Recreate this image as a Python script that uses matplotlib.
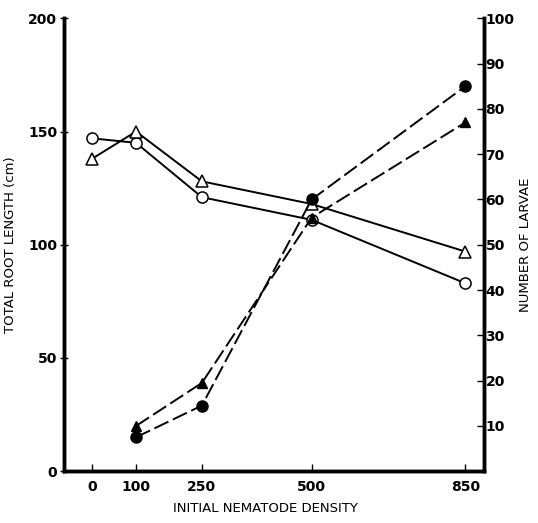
import matplotlib
matplotlib.use("Agg")
import matplotlib.pyplot as plt

density = [0, 100, 250, 500, 850]
root_circle = [147, 145, 121, 111, 83]
root_triangle = [138, 150, 128, 118, 97]
larvae_density = [100, 250, 500, 850]
larvae_circle = [7.5, 14.5, 60, 85]
larvae_triangle = [10, 19.5, 56, 77]

left_ticks = [0, 50, 100, 150, 200]
right_ticks = [10, 20, 30, 40, 50, 60, 70, 80, 90, 100]

plt.rcParams["font.family"] = "DejaVu Sans"

fig = plt.figure(figsize=(5.38, 5.23), dpi=100)
ax = fig.add_axes([0.119, 0.099, 0.781, 0.866])
ax2 = ax.twinx()

# open symbols: root length (left axis), solid lines
ax.plot(density, root_circle, "-", color="black", lw=1.4,
        marker="o", ms=8, mfc="white", mec="black", mew=1.1, zorder=3)
ax.plot(density, root_triangle, "-", color="black", lw=1.4,
        marker="^", ms=8, mfc="white", mec="black", mew=1.1, zorder=3)

# filled symbols: larvae (right axis), dashed lines
ax2.plot(larvae_density, larvae_circle, color="black", lw=1.4,
         dashes=(8, 2.5), marker="o", ms=8, mfc="black", mec="black", zorder=3)
ax2.plot(larvae_density, larvae_triangle, color="black", lw=1.4,
         dashes=(8, 2.5), marker="^", ms=7, mfc="black", mec="black", zorder=3)

ax.set_xlim(-64, 893)
ax.set_ylim(0, 200)
ax2.set_ylim(0, 100)

for a in (ax, ax2):
    a.spines["top"].set_visible(False)
    for s in ("left", "right", "bottom"):
        a.spines[s].set_linewidth(2.5)

ax.set_xticks(density)
ax.set_xticklabels([str(d) for d in density], fontsize=10, fontweight="bold")
ax.set_yticks(left_ticks)
ax.set_yticklabels([str(t) for t in left_ticks], fontsize=10, fontweight="bold")
ax2.set_yticks(right_ticks)
ax2.set_yticklabels([str(t) for t in right_ticks], fontsize=10, fontweight="bold")

ax.tick_params(axis="x", direction="in", length=5, width=1, pad=6)
ax.tick_params(axis="y", direction="inout", length=6, width=1, pad=2)
ax2.tick_params(axis="y", direction="in", length=5, width=1, pad=1)

ax.set_xlabel("INITIAL NEMATODE DENSITY", fontsize=9.5)
ax.set_ylabel("TOTAL ROOT LENGTH (cm)", fontsize=9.5)
ax2.set_ylabel("NUMBER OF LARVAE", fontsize=9.5, rotation=90)
ax.xaxis.set_label_coords(0.48, -0.068)
ax.yaxis.set_label_coords(-0.112, 0.5)
ax2.yaxis.set_label_coords(1.084, 0.5)

fig.savefig("out.png", dpi=100)
